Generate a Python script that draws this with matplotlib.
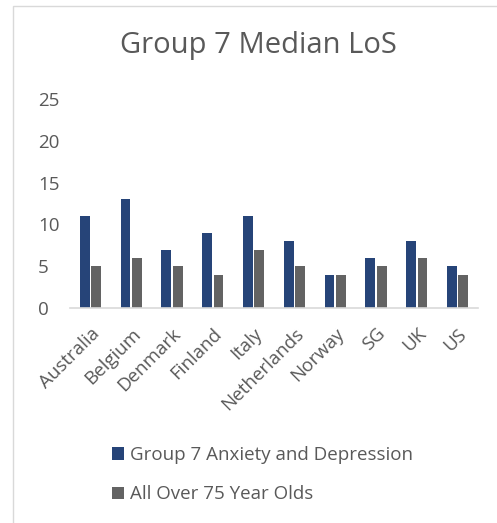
import matplotlib.pyplot as plt
import numpy as np
from matplotlib.patches import Rectangle

countries = ["Australia", "Belgium", "Denmark", "Finland", "Italy",
             "Netherlands", "Norway", "SG", "UK", "US"]
anxiety_depression = [11, 13, 7, 9, 11, 8, 4, 6, 8, 5]
over_75 = [5, 6, 5, 4, 7, 5, 4, 5, 6, 4]

plt.rcParams["font.family"] = ["Open Sans", "DejaVu Sans"]
text_color = "#595959"

W, H = 497, 523
fig = plt.figure(figsize=(W / 100, H / 100), dpi=100)
fig.patch.set_facecolor("white")

# chart border (cut off on right and bottom like the source)
fig.patches.append(Rectangle((13 / W, -0.1), 2.0, 1 - 6 / H + 0.1,
                             transform=fig.transFigure, fill=False,
                             edgecolor="#d9d9d9", linewidth=1.0))

ax = fig.add_axes([70 / W, 1 - 308 / H, 408 / W, 213 / H])
x = np.arange(len(countries))
width = 0.24
ax.bar(x - 0.14, anxiety_depression, width, color="#264478",
       label="Group 7 Anxiety and Depression")
ax.bar(x + 0.14, over_75, width, color="#636363",
       label="All Over 75 Year Olds")

ax.set_xlim(-0.5, len(countries) - 0.5)
ax.set_ylim(0, 25.5)
ax.set_yticks(range(0, 26, 5))
ax.set_xticks(x, countries, rotation=45, ha="right", rotation_mode="anchor")
ax.tick_params(length=0, labelsize=13.5, colors=text_color)
ax.tick_params(axis="x", pad=12)
ax.tick_params(axis="y", pad=23)
for lbl in ax.get_yticklabels():
    lbl.set_horizontalalignment("left")
for s in ["top", "right", "left"]:
    ax.spines[s].set_visible(False)
ax.spines["bottom"].set_color("#d9d9d9")
ax.spines["bottom"].set_linewidth(1.2)

fig.text(258 / W, 1 - 46 / H, "Group 7 Median LoS", ha="center", va="center",
         fontsize=21, color=text_color)

handles, labels = ax.get_legend_handles_labels()
leg = fig.legend(handles, labels, loc="upper left",
                 bbox_to_anchor=(95 / W, 1 - 429 / H), ncol=1, frameon=False,
                 fontsize=13.5, handlelength=0.65, handleheight=0.65,
                 handletextpad=0.3, labelspacing=1.15, labelcolor=text_color)

fig.savefig("out.png", dpi=100, facecolor="white")
